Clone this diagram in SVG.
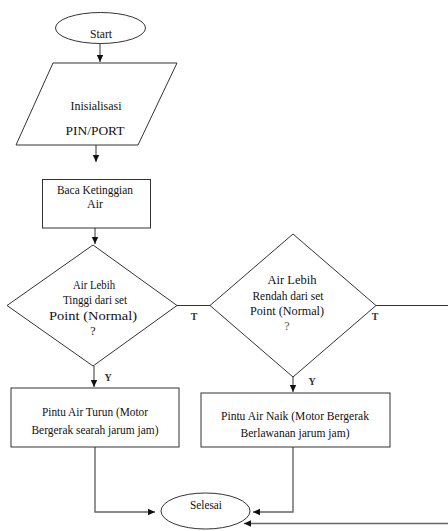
<svg xmlns="http://www.w3.org/2000/svg" width="448" height="531" viewBox="0 0 448 531">
<defs>
<marker id="ah" markerWidth="8" markerHeight="8" refX="7" refY="4" orient="auto" markerUnits="userSpaceOnUse">
<path d="M0,0.8 L7,4 L0,7.2 Z" fill="#111"/>
</marker>
<style>
.s{fill:#fff;stroke:#333;stroke-width:1}
.t{font-family:"Liberation Serif","Times New Roman",serif;font-size:12px;fill:#111;text-anchor:middle}
.c{fill:none;stroke:#333;stroke-width:1}
.g{fill:none;stroke:#666;stroke-width:1.4}
.l{font-family:"Liberation Serif","Times New Roman",serif;font-size:10px;font-weight:bold;fill:#333;text-anchor:middle}
</style>
</defs>
<rect width="448" height="531" fill="#fff"/>
<g id="connectors">
<path class="c" d="M100,43 V62" marker-end="url(#ah)"/>
<path class="c" d="M96,145 V162" marker-end="url(#ah)"/>
<path class="c" d="M95,228 V244" marker-end="url(#ah)"/>
<path class="c" d="M177,305.5 H210"/>
<path class="c" d="M376,305.5 H448"/>
<path class="c" d="M94,366 V387" marker-end="url(#ah)"/>
<path class="c" d="M293,377 V392" marker-end="url(#ah)"/>
<path class="g" d="M95,447 V512 H155" marker-end="url(#ah)"/>
<path class="g" d="M293,447 V512 H253" marker-end="url(#ah)"/>
<path class="g" d="M448,523.5 H244" marker-end="url(#ah)"/>
<text class="l" x="194" y="320">T</text>
<text class="l" x="375" y="320">T</text>
<text class="l" x="108" y="381">Y</text>
<text class="l" x="312" y="385">Y</text>
</g>
<g id="start">
<ellipse class="s" cx="100.5" cy="28" rx="45" ry="15.5"/>
<text class="t" x="101" y="38" textLength="22" lengthAdjust="spacingAndGlyphs">Start</text>
</g>
<g id="init">
<polygon class="s" points="53,63 177,63 138,145 16,145"/>
<text class="t" x="96" y="110" textLength="51" lengthAdjust="spacingAndGlyphs">Inisialisasi</text>
<text class="t" x="95" y="135" textLength="59" lengthAdjust="spacingAndGlyphs">PIN/PORT</text>
</g>
<g id="baca">
<rect class="s" x="42.5" y="179.5" width="108" height="48.5"/>
<text class="t" x="95" y="194" textLength="76" lengthAdjust="spacingAndGlyphs">Baca Ketinggian</text>
<text class="t" x="95" y="208">Air</text>
</g>
<g id="cek-tinggi">
<polygon class="s" points="93,245 177,305.5 93,366 7,305.5"/>
<text class="t" x="94" y="289" textLength="42" lengthAdjust="spacingAndGlyphs">Air Lebih</text>
<text class="t" x="95" y="304" textLength="64" lengthAdjust="spacingAndGlyphs">Tinggi dari set</text>
<text class="t" x="93" y="320" textLength="88" lengthAdjust="spacingAndGlyphs">Point (Normal)</text>
<text class="t" x="93" y="335">?</text>
</g>
<g id="cek-rendah">
<polygon class="s" points="293,234 376,305.5 293,377 210,305.5"/>
<text class="t" x="292" y="284" textLength="49" lengthAdjust="spacingAndGlyphs">Air Lebih</text>
<text class="t" x="288" y="300" textLength="71" lengthAdjust="spacingAndGlyphs">Rendah dari set</text>
<text class="t" x="287" y="315" textLength="74" lengthAdjust="spacingAndGlyphs">Point (Normal)</text>
<text class="t" x="287" y="330" style="fill:#555">?</text>
</g>
<g id="turun">
<rect class="s" x="11" y="388" width="168" height="59"/>
<text class="t" x="95" y="416" textLength="106" lengthAdjust="spacingAndGlyphs">Pintu Air Turun (Motor</text>
<text class="t" x="95" y="434" textLength="127" lengthAdjust="spacingAndGlyphs">Bergerak searah jarum jam)</text>
</g>
<g id="naik">
<rect class="s" x="201" y="393" width="189" height="54"/>
<text class="t" x="295" y="420" textLength="148" lengthAdjust="spacingAndGlyphs">Pintu Air Naik (Motor Bergerak</text>
<text class="t" x="295" y="437" textLength="109" lengthAdjust="spacingAndGlyphs">Berlawanan jarum jam)</text>
</g>
<g id="selesai">
<ellipse class="s" cx="205.5" cy="511" rx="44.5" ry="18"/>
<text class="t" x="206" y="509" textLength="32" lengthAdjust="spacingAndGlyphs">Selesai</text>
</g>
</svg>
